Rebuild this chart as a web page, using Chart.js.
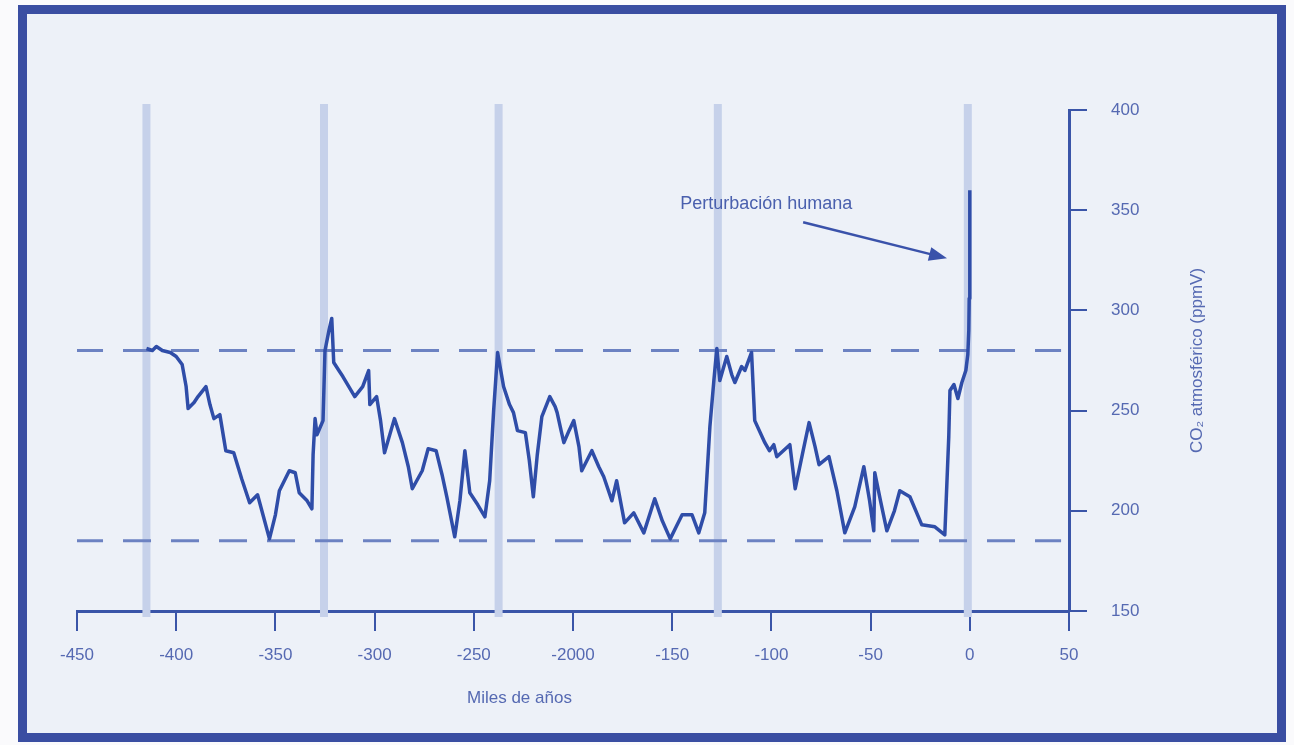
<!DOCTYPE html>
<html>
<head>
<meta charset="utf-8">
<script src="https://cdn.jsdelivr.net/npm/chart.js@4.4.1/dist/chart.umd.min.js"></script>
<style>
  body { margin: 0; background: #fafafc; }
  #frame {
    position: absolute; left: 18px; top: 5px; width: 1250px; height: 719px;
    border: 9px solid #3a4ea2; background: #edf1f8;
  }
  #wrap { position: absolute; left: 0; top: 0; width: 1294px; height: 745px; }
</style>
</head>
<body>
<div id="frame"></div>
<div id="wrap"><canvas id="co2Chart"></canvas></div>
<script>
// thousands of years before present
const years = [
  -415, -412, -410, -407, -403, -400, -397, -395, -394, -391, -389, -385, -383, -381, -378, -376,
  -375, -371, -367, -363, -359, -356, -353, -350, -348, -345, -343, -340, -338, -334, -331.6, -331,
  -330, -329, -326, -325, -323, -321.6, -320.6, -318, -316, -313, -310, -306, -303, -302.4, -299, -297,
  -295, -290, -286, -283, -281, -276, -273, -269, -266, -263.6, -259.6, -257, -254.5, -252, -248, -244.4,
  -242, -240, -238, -235, -232, -230, -228, -224, -222, -220, -218, -215.7, -211.7, -209, -208, -206,
  -204.6, -202, -199.6, -197, -195.6, -190.5, -187, -184.5, -180.4, -178, -174, -169.4, -164.3, -158.8, -155, -151,
  -148, -145, -140, -136.6, -133.6, -131, -129, -127.5, -126, -122.5, -120, -118.4, -115, -113.4, -110, -108.4,
  -103.3, -101, -98.8, -97.3, -94, -90.7, -88, -84, -81, -78, -76, -71, -67, -63, -58, -53.4,
  -50.5, -48.4, -47.9, -45, -41.8, -38, -35.3, -30.2, -24.2, -17.6, -12.6, -10.6, -10, -8, -6, -4,
  -2, -1, -0.5, -0.3, 0
];
// atmospheric CO2, ppmV
const co2 = [
  281, 280, 282, 280, 279, 277, 273, 262, 251, 254, 257, 262, 253, 246, 248, 236,
  230, 229, 216, 204, 208, 197, 186, 198, 210, 216, 220, 219, 209, 205, 201, 228,
  246, 238, 245, 280, 290, 296, 274, 270, 267, 262, 257, 262, 270, 253, 257, 245,
  229, 246, 234, 222, 211, 220, 231, 230, 218, 207, 187, 205, 230, 209, 203, 197,
  215, 250, 279, 262, 253, 249, 240, 239, 225, 207, 228, 247, 257, 252, 249, 240,
  234, 240, 245, 232, 220, 230, 222, 217, 205, 215, 194, 199, 189, 206, 195, 186,
  192, 198, 198, 189, 199, 242, 265, 281, 265, 277, 268, 264, 272, 270, 279, 245,
  234, 230, 233, 227, 230, 233, 211, 230, 244, 232, 223, 227, 210, 189, 202, 222,
  205, 190, 219, 205, 190, 200, 210, 207, 193, 192, 188, 237, 260, 263, 256, 264,
  270, 278, 290, 306, 360
];
const xTickLabels = ['-450', '-400', '-350', '-300', '-250', '-2000', '-150', '-100', '-50', '0', '50'];
const interglacials = [-415, -325.5, -237.5, -127, -1];
const refLevels = [280, 185];

const blue = '#2f4da8';
const axisBlue = '#3a55a8';
const tickBlue = '#5569b2';
const fontFam = '"Liberation Sans", Arial, sans-serif';

const datasets = [];
datasets.push({
  data: years.map((x, i) => ({ x: x, y: co2[i] })),
  borderColor: blue, borderWidth: 3.5, pointRadius: 0, tension: 0,
  borderJoinStyle: 'round', order: 0
});
refLevels.forEach(v => datasets.push({
  data: [{ x: -451, y: v }, { x: 46, y: v }],
  borderColor: '#6c82c2', borderWidth: 3, borderDash: [28, 20],
  pointRadius: 0, order: 1
}));
interglacials.forEach(v => datasets.push({
  data: [{ x: v, y: 147 }, { x: v, y: 403 }],
  borderColor: '#c6d1ea', borderWidth: 8, pointRadius: 0, clip: false, order: 2
}));

// text and arrow drawn over the chart
const decor = {
  id: 'decor',
  afterDraw(chart) {
    const ctx = chart.ctx, xs = chart.scales.x, ys = chart.scales.y, a = chart.chartArea;
    ctx.save();
    ctx.fillStyle = '#4a60ae';
    ctx.font = '18px ' + fontFam;
    ctx.textBaseline = 'alphabetic';
    ctx.fillText('Perturbación humana', xs.getPixelForValue(-146), ys.getPixelForValue(350.5));

    // arrow
    const x1 = xs.getPixelForValue(-84), y1 = ys.getPixelForValue(344);
    const x2 = xs.getPixelForValue(-11.5), y2 = ys.getPixelForValue(326);
    const ang = Math.atan2(y2 - y1, x2 - x1);
    ctx.strokeStyle = '#3a52aa';
    ctx.lineWidth = 2.5;
    ctx.beginPath();
    ctx.moveTo(x1, y1);
    ctx.lineTo(x2 - 12 * Math.cos(ang), y2 - 12 * Math.sin(ang));
    ctx.stroke();
    ctx.fillStyle = '#3a52aa';
    ctx.beginPath();
    ctx.moveTo(x2, y2);
    ctx.lineTo(x2 - 18 * Math.cos(ang) + 7 * Math.sin(ang), y2 - 18 * Math.sin(ang) - 7 * Math.cos(ang));
    ctx.lineTo(x2 - 18 * Math.cos(ang) - 7 * Math.sin(ang), y2 - 18 * Math.sin(ang) + 7 * Math.cos(ang));
    ctx.closePath();
    ctx.fill();

    // axis titles
    ctx.fillStyle = tickBlue;
    ctx.font = '17px ' + fontFam;
    ctx.textAlign = 'center';
    ctx.textBaseline = 'middle';
    ctx.fillText('Miles de años', xs.getPixelForValue(-227), a.bottom + 87);
    ctx.translate(a.right + 128, (a.top + a.bottom) / 2);
    ctx.rotate(-Math.PI / 2);
    ctx.fillText('CO₂ atmosférico (ppmV)', 0, 0);
    ctx.restore();
  }
};

new Chart(document.getElementById('co2Chart'), {
  type: 'line',
  data: { datasets: datasets },
  options: {
    responsive: true,
    maintainAspectRatio: false,
    animation: false,
    layout: { padding: { left: 77, top: 110, right: 0, bottom: 0 } },
    plugins: { legend: { display: false }, tooltip: { enabled: false } },
    scales: {
      x: {
        type: 'linear', position: 'bottom', min: -450, max: 50,
        afterFit: s => { s.height = 134; },
        grid: { drawOnChartArea: false, tickLength: 20, color: axisBlue, lineWidth: 2 },
        border: { color: axisBlue, width: 3 },
        ticks: {
          stepSize: 50, padding: 14, color: tickBlue, maxRotation: 0,
          font: { family: fontFam, size: 17 },
          callback: (v, i) => xTickLabels[i]
        }
      },
      y: {
        type: 'linear', position: 'right', min: 150, max: 400,
        afterFit: s => { s.width = 225; },
        grid: { drawOnChartArea: false, tickLength: 18, color: axisBlue, lineWidth: 2 },
        border: { color: axisBlue, width: 3 },
        ticks: { stepSize: 50, padding: 24, color: tickBlue, font: { family: fontFam, size: 17 } }
      }
    }
  },
  plugins: [decor]
});
</script>
</body>
</html>
